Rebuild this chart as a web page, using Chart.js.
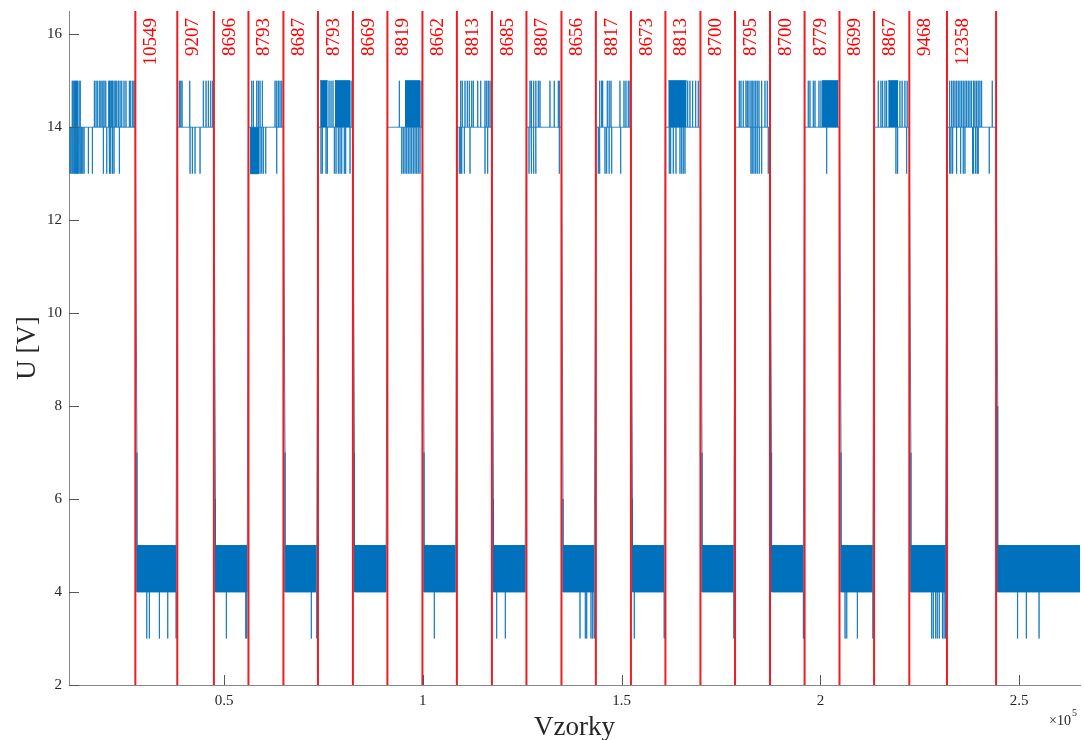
<!DOCTYPE html>
<html>
<head>
<meta charset="utf-8">
<script src="https://cdn.jsdelivr.net/npm/chart.js@4.4.1/dist/chart.umd.min.js"></script>
<style>
  html, body { margin: 0; padding: 0; background: #fff; }
  #wrap { width: 1084px; height: 740px; }
</style>
</head>
<body>
<div id="wrap"><canvas id="sigChart" width="1084" height="740"></canvas></div>
<script>
// ─────────────────────────────────────────────────────────────
// DATA (x in samples, y in volts)
// ─────────────────────────────────────────────────────────────
const xMin = 11000, xMax = 265300;
const yMin = 2, yMax = 16.5;
const xTicks = [50000, 100000, 150000, 200000, 250000];
const xTickLabels = ['0.5', '1', '1.5', '2', '2.5'];
const yTicks = [2, 4, 6, 8, 10, 12, 14, 16];

// red markers and the sample count between neighbours
const boundaries = [27690, 38239, 47446, 56142, 64935, 73622, 82415, 91084, 99903, 108565, 117378, 126063, 134870,
  143526, 152343, 161016, 169829, 178529, 187324, 196024, 204803, 213502, 222369, 231837, 244195];
const gapLabels = ['10549', '9207', '8696', '8793', '8687', '8793', '8669', '8819', '8662', '8813', '8685', '8807',
  '8656', '8817', '8673', '8813', '8700', '8795', '8700', '8779', '8699', '8867', '9468', '12358'];

// low state (4–5 V) blocks
const lowStart = [28090, 47850, 65340, 82820, 100300, 117780, 135270, 152740, 170230, 187720, 205200, 222770, 244600];
const lowEnd   = [37940, 55840, 73320, 90780, 108260, 125760, 143220, 160710, 178230, 195720, 213200, 231540, 265300];
const fallPeak = [7, 6, 7, 7, 7, 6, 6, 6, 7, 7, 7, 7, 8];
const lowDrops = [
  [30560, 31210, 33730, 35840, 37940], [50580, 55460, 55710], [71950, 73320], [], [102890], [118580, 120750],
  [139530, 140870, 141220, 142300, 142730, 143060], [153190, 160710], [178230], [195720],
  [206200, 206630, 209300, 213200], [228000, 228400, 229000, 229400, 229900, 230700, 231100, 231400],
  [249600, 251800, 255000]
];

// high state (14 V) segments: spikes up to 15 V and down to 13 V
const highUp = [
  [11850, 12100, 12450, 12700, 12950, 13200, 13530, 13860, 17380, 17810, 18230, 18740, 19060, 19490, 19820, 20250,
   21000, 21250, 21500, 21750, 22010, 22330, 22660, 23010, 23410, 23840, 24270, 24840, 25340, 26180, 26530, 27040, 27360],
  [38760, 39110, 39440, 41370, 44790, 45470, 46050, 46650, 47160],
  [56960, 57370, 58220, 58620, 59050, 59630, 62830, 63250, 63660, 64080, 64510],
  [76410, 76910, 77410, 81940],
  [94090, 99540],
  [109530, 109930, 110610, 111190, 111690, 112300, 112700, 113810, 114560, 115640, 116070, 116470, 116900],
  [126960, 127380, 127960, 128460, 129040, 129470, 131980, 133060, 134080, 134330],
  [144560, 144990, 145240, 146400, 146830, 147330, 149590, 150600, 151100, 151680, 152110],
  [166620, 167190, 167870, 168630, 169290],
  [179600, 180020, 180600, 181280, 181610, 182030, 182540, 182860, 183290, 183720, 184120, 184550, 185230, 186060, 186640],
  [196950, 197380, 198210, 198640, 199640, 200140],
  [214560, 215230, 215660, 216240, 216660, 220000, 220560, 221260, 221830],
  [232590, 233020, 233420, 233850, 234270, 234680, 235100, 235530, 235930, 236360, 236790, 237190, 237620, 238040,
   238450, 238870, 239300, 239700, 240130, 240560, 243230]
];
const highDown = [
  [11270, 11520, 11770, 12020, 12270, 12520, 12780, 13030, 13280, 13530, 13780, 14110, 14460, 14790, 15870, 16880,
   19640, 20500, 21080, 21500, 21910, 22330, 23670],
  [41450, 42030, 42700, 43960],
  [59050, 59480, 59880, 60490, 63250],
  [74390, 74720, 75650, 75980, 77740, 78170, 78740, 79170, 79600, 80250, 80600, 81690],
  [94690, 95090, 95520, 95950, 96350, 96780, 97200, 97610, 98040, 98460, 98860, 99290],
  [109180, 109530, 109780, 110440, 111870, 115640, 116310],
  [126710, 127210, 127790, 128390, 134330],
  [144140, 144390, 145820, 146250, 146900, 147510, 149770],
  [161990, 162340, 163000, 163680, 164680, 165110, 165510, 165940],
  [182540, 182860, 183290, 183720, 184120, 184620, 185230, 186890],
  [201580],
  [219000, 219430, 221700],
  [232420, 232840, 233270, 234270, 235280, 235930, 236360, 238290, 238620, 239050, 239450, 239700, 242470]
];
// stretches where the spikes merge into a solid band
const upFill = [[74170, 76080], [77910, 81690], [95520, 99290], [161740, 166360], [200390, 204540], [217060, 219570]];
const downFill = [[56540, 58800]];

// ─────────────────────────────────────────────────────────────
// SERIES
// ─────────────────────────────────────────────────────────────
const BLUE = '#0072BD';
const RED = '#ee1d23';
const SERIF = '"Liberation Serif", "DejaVu Serif", serif';

function buildSignal() {
  const pts = [];
  const high = (s, e, ups, downs) => {
    pts.push({ x: s, y: 14 });
    const marks = ups.map(x => [x, 15]).concat(downs.map(x => [x, 13])).sort((a, b) => a[0] - b[0]);
    marks.forEach(([x, y]) => pts.push({ x, y: 14 }, { x, y }, { x, y: 14 }));
    pts.push({ x: e, y: 14 });
  };
  const low = i => {
    pts.push({ x: lowStart[i], y: fallPeak[i] }, { x: lowStart[i], y: 4 });
    lowDrops[i].forEach(x => pts.push({ x, y: 4 }, { x, y: 3 }, { x, y: 4 }));
    pts.push({ x: lowEnd[i], y: 4 }, { x: lowEnd[i], y: 5 });
  };
  high(xMin, boundaries[0], highUp[0], highDown[0]);
  for (let i = 0; i < lowStart.length; i++) {
    low(i);
    if (i < highUp.length - 1) high(boundaries[2 * i + 1], boundaries[2 * i + 2], highUp[i + 1], highDown[i + 1]);
  }
  return pts;
}

const band = (s, e, top, base) => ({
  data: [{ x: s, y: top }, { x: e, y: top }],
  showLine: true, borderColor: BLUE, borderWidth: 1, backgroundColor: BLUE,
  fill: { value: base }, pointRadius: 0, order: 2
});

const redPts = [];
boundaries.forEach(b => redPts.push({ x: b, y: yMin }, { x: b, y: yMax }, { x: b, y: null }));

const datasets = [
  { data: redPts, showLine: true, spanGaps: false, borderColor: RED, borderWidth: 2, pointRadius: 0, order: 0 },
  { data: buildSignal(), showLine: true, borderColor: BLUE, borderWidth: 0.8, pointRadius: 0, order: 1 },
  ...lowStart.map((s, i) => band(s, lowEnd[i], 5, 4)),
  ...upFill.map(([s, e]) => band(s, e, 15, 14)),
  ...downFill.map(([s, e]) => band(s, e, 13, 14))
];

// labels next to the red lines, tick marks pointing inwards, ×10^5
const decorPlugin = {
  id: 'decor',
  afterDatasetsDraw(chart) {
    const { ctx, scales: { x, y } } = chart;
    ctx.save();
    ctx.fillStyle = '#ff0000';
    ctx.font = '19px ' + SERIF;
    ctx.textAlign = 'right';
    ctx.textBaseline = 'alphabetic';
    gapLabels.forEach((t, i) => {
      ctx.save();
      ctx.translate(x.getPixelForValue(boundaries[i]) + 21, y.getPixelForValue(16.35));
      ctx.rotate(-Math.PI / 2);
      ctx.fillText(t, 0, 0);
      ctx.restore();
    });
    ctx.restore();
  },
  afterDraw(chart) {
    const { ctx, chartArea: a, scales: { x, y } } = chart;
    ctx.save();
    ctx.strokeStyle = '#555';
    ctx.lineWidth = 1;
    ctx.beginPath();
    xTicks.forEach(v => {
      const px = Math.round(x.getPixelForValue(v)) + 0.5;
      ctx.moveTo(px, a.bottom); ctx.lineTo(px, a.bottom - 10);
    });
    yTicks.forEach(v => {
      const py = Math.round(y.getPixelForValue(v)) + 0.5;
      ctx.moveTo(a.left, py); ctx.lineTo(a.left + 10, py);
    });
    ctx.stroke();
    ctx.fillStyle = '#262626';
    ctx.textAlign = 'right';
    ctx.textBaseline = 'alphabetic';
    ctx.font = '14px ' + SERIF;
    ctx.fillText('\u00d710', a.right - 9, a.bottom + 40);
    ctx.textAlign = 'left';
    ctx.font = '10px ' + SERIF;
    ctx.fillText('5', a.right - 8, a.bottom + 31);
    ctx.restore();
  }
};

new Chart(document.getElementById('sigChart'), {
  type: 'scatter',
  data: { datasets },
  plugins: [decorPlugin],
  options: {
    responsive: false,
    animation: false,
    layout: { padding: { top: 11, right: 4, left: 0, bottom: 0 } },
    plugins: { legend: { display: false }, tooltip: { enabled: false } },
    elements: { point: { radius: 0 }, line: { tension: 0 } },
    scales: {
      x: {
        type: 'linear', min: xMin, max: xMax,
        afterFit: s => { s.height = 55; s.paddingLeft = 0; s.paddingRight = 0; },
        afterBuildTicks: s => { s.ticks = xTicks.map(v => ({ value: v })); },
        grid: { display: false, drawTicks: false },
        border: { display: true, color: '#888', width: 1 },
        ticks: { padding: 7, color: '#262626', font: { family: SERIF, size: 15 }, maxRotation: 0,
          callback: (v, i) => xTickLabels[i] },
        title: { display: true, text: 'Vzorky', color: '#262626', font: { family: SERIF, size: 27 },
          padding: { top: 0, bottom: -4 } }
      },
      y: {
        type: 'linear', min: yMin, max: yMax,
        afterFit: s => { s.width = 69; s.paddingTop = 0; s.paddingBottom = 0; },
        afterBuildTicks: s => { s.ticks = yTicks.map(v => ({ value: v })); },
        grid: { display: false, drawTicks: false },
        border: { display: true, color: '#888', width: 1 },
        ticks: { padding: 7, color: '#262626', font: { family: SERIF, size: 15 }, callback: v => String(v) },
        title: { display: true, text: 'U [V]', color: '#262626', font: { family: SERIF, size: 27 },
          padding: { top: 12, bottom: 0 } }
      }
    }
  }
});
</script>
</body>
</html>
